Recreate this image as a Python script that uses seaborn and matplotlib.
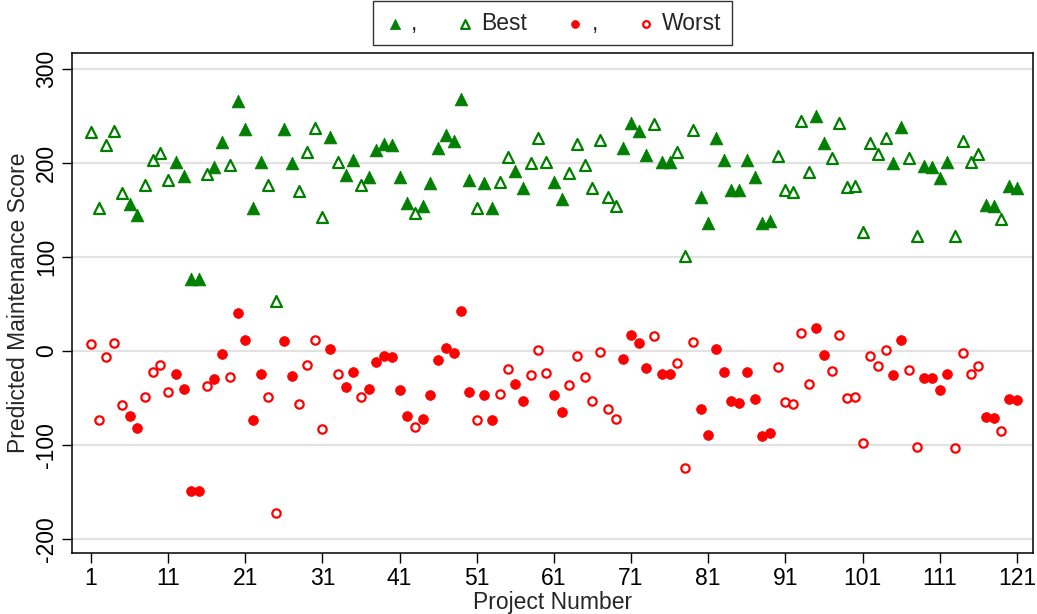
import numpy as np
import pandas as pd
import seaborn as sns
import matplotlib.pyplot as plt

# scores, one value per project (1..121)
best = [233, 152, 219, 234, 168, 156, 145, 177, 203, 211,
        182, 201, 186, 77, 77, 188, 196, 222, 198, 266,
        236, 152, 201, 177, 53, 236, 200, 170, 212, 237,
        143, 228, 201, 187, 203, 177, 185, 214, 220, 219,
        185, 157, 147, 154, 179, 216, 230, 223, 268, 182,
        152, 179, 152, 180, 206, 191, 173, 200, 227, 201,
        180, 162, 189, 220, 198, 173, 224, 164, 154, 216,
        243, 234, 208, 241, 201, 201, 212, 101, 235, 164,
        136, 227, 203, 171, 171, 203, 185, 136, 138, 207,
        171, 169, 245, 190, 250, 221, 205, 243, 175, 176,
        127, 221, 210, 227, 200, 238, 205, 122, 197, 196,
        184, 201, 122, 223, 201, 210, 155, 154, 140, 176,
        173]

worst = [7, -73, -6, 8, -57, -69, -82, -49, -22, -15,
         -44, -25, -40, -149, -149, -37, -30, -3, -28, 40,
         12, -73, -24, -49, -172, 11, -27, -56, -15, 12,
         -83, 2, -25, -38, -22, -49, -40, -12, -5, -6,
         -41, -69, -81, -72, -47, -10, 3, -2, 43, -44,
         -73, -47, -73, -46, -19, -35, -53, -26, 1, -23,
         -47, -65, -36, -5, -28, -53, -1, -62, -72, -9,
         17, 8, -18, 16, -24, -24, -13, -125, 10, -62,
         -89, 2, -22, -53, -55, -22, -51, -90, -87, -17,
         -54, -56, 19, -35, 24, -4, -21, 17, -50, -49,
         -98, -5, -16, 1, -26, 12, -20, -102, -29, -29,
         -42, -24, -103, -2, -24, -16, -70, -71, -85, -51,
         -52]

# 1 = filled marker, 0 = hollow marker
filled = [0, 0, 0, 0, 0, 1, 1, 0, 0, 0,
          0, 1, 1, 1, 1, 0, 1, 1, 0, 1,
          1, 1, 1, 0, 0, 1, 1, 0, 0, 0,
          0, 1, 0, 1, 1, 0, 1, 1, 1, 1,
          1, 1, 0, 1, 1, 1, 1, 1, 1, 1,
          0, 1, 1, 0, 0, 1, 1, 0, 0, 0,
          1, 1, 0, 0, 0, 0, 0, 0, 0, 1,
          1, 1, 1, 0, 1, 1, 0, 0, 0, 1,
          1, 1, 1, 1, 1, 1, 1, 1, 1, 0,
          0, 0, 0, 0, 1, 1, 0, 0, 0, 0,
          0, 0, 0, 0, 1, 1, 0, 0, 1, 1,
          1, 1, 0, 0, 0, 0, 1, 1, 0, 1,
          1]

projects = np.arange(1, len(best) + 1)
xticks = list(range(1, 122, 10))
yticks = [-200, -100, 0, 100, 200, 300]

df = pd.DataFrame({'project': projects, 'best': best, 'worst': worst,
                   'filled': filled})

sns.set_style('white')
plt.rcParams['font.family'] = ['Liberation Sans', 'DejaVu Sans']

green = '#007f00'
red = '#ff0000'

fig = plt.figure(figsize=(10.37, 6.14), dpi=100)
ax = fig.add_axes([0.0694, 0.0993, 0.9268, 0.8143])

for y in yticks:
    ax.axhline(y, color='#e2e2e2', lw=1.6, zorder=0)

f = df[df['filled'] == 1]
h = df[df['filled'] == 0]

sns.scatterplot(x='project', y='best', data=f, marker='^', s=85, color=green,
                edgecolor=green, linewidth=0.5, label=',', ax=ax, zorder=3)
sns.scatterplot(x='project', y='best', data=h, marker='^', s=62, color='white',
                edgecolor=green, linewidth=1.6, label='Best', ax=ax, zorder=3)
sns.scatterplot(x='project', y='worst', data=f, marker='o', s=50, color=red,
                edgecolor=red, linewidth=0.5, label=',', ax=ax, zorder=3)
sns.scatterplot(x='project', y='worst', data=h, marker='o', s=36, color='white',
                edgecolor=red, linewidth=1.6, label='Worst', ax=ax, zorder=3)

ax.set_xlim(-1.46, 123.1)
ax.set_ylim(-215, 317)
ax.set_xticks(xticks)
ax.set_yticks(yticks)
ax.set_xticklabels([str(t) for t in xticks])
ax.set_yticklabels([str(t) for t in yticks])

ax.tick_params(axis='both', direction='out', length=7, width=1, color='black',
               labelsize=16.5, labelcolor='black', bottom=True, left=True)
ax.tick_params(axis='x', pad=3)
ax.tick_params(axis='y', labelrotation=90, pad=3)
for lab in ax.get_yticklabels():
    lab.set_va('center')

for side in ax.spines.values():
    side.set_color('black')
    side.set_linewidth(1.1)

ax.set_xlabel('Project Number', fontsize=16.5, labelpad=1)
ax.set_ylabel('Predicted Maintenance Score', fontsize=16.5, labelpad=4)

leg = ax.legend(loc='lower center', bbox_to_anchor=(0.5, 1.016), ncol=4,
                frameon=True, fancybox=False, shadow=False, fontsize=16.5,
                handletextpad=0.2, columnspacing=1.6, borderpad=0.45,
                borderaxespad=0, handlelength=1.0, markerscale=0.8)
leg.get_frame().set_edgecolor('black')
leg.get_frame().set_linewidth(1.0)

fig.savefig('out.png', dpi=100)
